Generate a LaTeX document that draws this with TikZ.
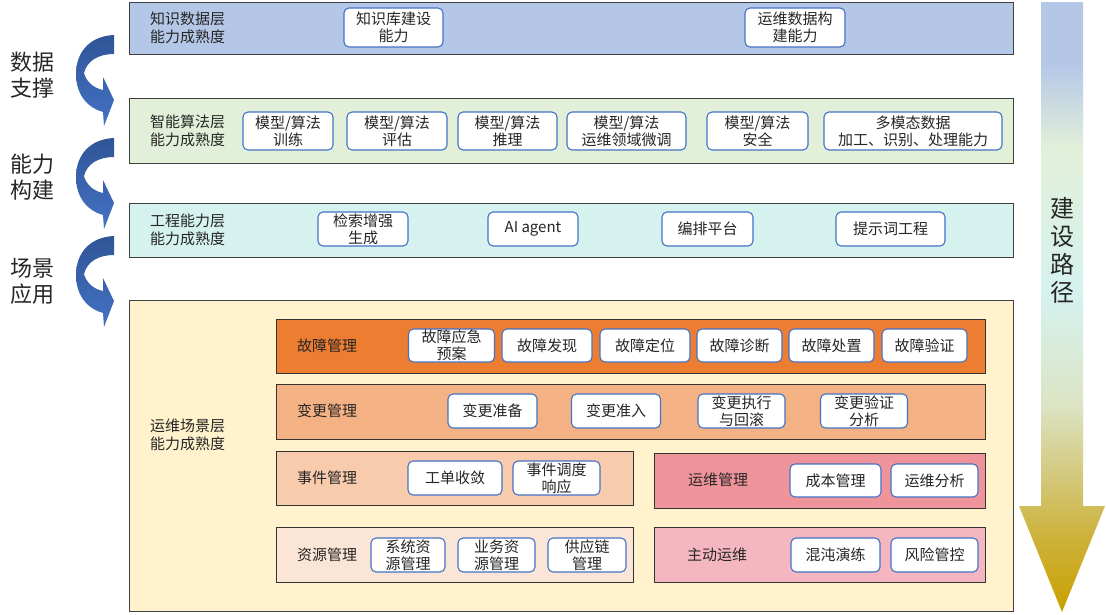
\documentclass[tikz,border=0pt]{standalone}
\usepackage{fontspec}
\setmainfont{Noto Sans CJK SC}

\definecolor{knowblue}{HTML}{B4C7E7}
\definecolor{algogreen}{HTML}{E2F0D9}
\definecolor{engcyan}{HTML}{D5F2EF}
\definecolor{scenebeige}{HTML}{FFF2CC}
\definecolor{faultorange}{HTML}{ED7D31}
\definecolor{changeorange}{HTML}{F4B183}
\definecolor{eventpeach}{HTML}{F8CBAD}
\definecolor{resourcepeach}{HTML}{FBE5D6}
\definecolor{opsred}{HTML}{F0949B}
\definecolor{proactivepink}{HTML}{F4B6C0}
\definecolor{boxblue}{HTML}{4472C4}
\definecolor{arrowdark}{HTML}{2F5597}
\definecolor{arrowlight}{HTML}{4472C4}
\definecolor{textgray}{HTML}{262626}
\definecolor{goldtip}{HTML}{C9A000}
\definecolor{goldmid}{HTML}{CDB23A}
\definecolor{goldlight}{HTML}{D3C77A}
\definecolor{paleolive}{HTML}{DCE4C4}

\pgfdeclareverticalshading{pathshade}{100bp}{color(0bp)=(goldtip); color(25bp)=(goldtip); color(31bp)=(goldmid); color(36bp)=(goldlight); color(42bp)=(paleolive); color(51bp)=(engcyan); color(63bp)=(algogreen); color(70bp)=(knowblue); color(100bp)=(knowblue)}

\tikzset{
  layer/.style={draw=black!75, line width=1.3pt, anchor=north west, inner sep=0pt},
  band/.style={draw=black!80, line width=1.1pt, anchor=north west, inner sep=0pt},
  item/.style={draw=boxblue, fill=white, line width=1.1pt, rounded corners=5pt, align=center, inner sep=0pt, text=textgray, font=\fontsize{15}{17}\selectfont},
  tag/.style={anchor=west, align=left, inner sep=0pt, text=textgray, font=\fontsize{15}{17.5}\selectfont},
  side/.style={align=center, inner sep=0pt, text=textgray, font=\fontsize{22}{26}\selectfont},
  curl/.style={top color=arrowdark, bottom color=arrowlight},
}

\begin{document}
\begin{tikzpicture}[x=1pt, y=-1pt]
	% Layers, bands, boxes and arrows:
	\useasboundingbox (0,0) rectangle (1106,614);
	\shade[shading=pathshade] (1041,2) -- (1083,2) -- (1083,506) -- (1105,506) -- (1062,612) -- (1019,506) -- (1041,506) -- cycle;
	\node[side, font=\fontsize{24}{28}\selectfont] (route) at (1062,250) {建\\设\\路\\径};

	\node[layer, fill=knowblue, minimum width=884pt, minimum height=52pt] (know) at (129,2) {};
	\node[layer, fill=algogreen, minimum width=884pt, minimum height=65pt] (algo) at (129,98) {};
	\node[layer, fill=engcyan, minimum width=884pt, minimum height=54pt] (eng) at (129,203) {};
	\node[layer, fill=scenebeige, minimum width=884pt, minimum height=311pt] (scene) at (129,300) {};

	\node[tag] (knowtag) at (150,28) {知识数据层\\能力成熟度};
	\node[tag] (algotag) at (150,131) {智能算法层\\能力成熟度};
	\node[tag] (engtag) at (150,230) {工程能力层\\能力成熟度};
	\node[tag] (scenetag) at (150,435) {运维场景层\\能力成熟度};

	\node[item, minimum width=99pt, minimum height=39pt] (kbase) at (393.5,27.5) {知识库建设\\能力};
	\node[item, minimum width=100pt, minimum height=39pt] (opsdata) at (795,27.5) {运维数据构\\建能力};

	\node[item, minimum width=90pt, minimum height=38pt] (train) at (288,131) {模型/算法\\训练};
	\node[item, minimum width=100pt, minimum height=38pt] (assess) at (397,131) {模型/算法\\评估};
	\node[item, minimum width=99pt, minimum height=38pt] (infer) at (507.5,131) {模型/算法\\推理};
	\node[item, minimum width=119pt, minimum height=38pt] (tune) at (626.5,131) {模型/算法\\运维领域微调};
	\node[item, minimum width=101pt, minimum height=38pt] (safe) at (757.5,131) {模型/算法\\安全};
	\node[item, minimum width=178pt, minimum height=38pt] (multi) at (913,131) {多模态数据\\加工、识别、处理能力};

	\node[item, minimum width=90pt, minimum height=34pt] (rag) at (363,229) {检索增强\\生成};
	\node[item, minimum width=90pt, minimum height=34pt] (agent) at (533,229) {AI agent};
	\node[item, minimum width=91pt, minimum height=34pt] (orch) at (707.5,229) {编排平台};
	\node[item, minimum width=109pt, minimum height=34pt] (prompt) at (890.5,229) {提示词工程};

	\node[band, fill=faultorange, minimum width=709pt, minimum height=54pt] (fault) at (276,319) {};
	\node[band, fill=changeorange, minimum width=709pt, minimum height=55pt] (change) at (276,384) {};
	\node[band, fill=eventpeach, minimum width=357pt, minimum height=54pt] (event) at (276,451) {};
	\node[band, fill=opsred, minimum width=331pt, minimum height=55pt] (opsmgmt) at (654,453) {};
	\node[band, fill=resourcepeach, minimum width=357pt, minimum height=55pt] (resource) at (276,527) {};
	\node[band, fill=proactivepink, minimum width=331pt, minimum height=55pt] (proactive) at (654,527) {};

	\node[tag] (faulttag) at (297,346) {故障管理};
	\node[tag] (changetag) at (297,411) {变更管理};
	\node[tag] (eventtag) at (297,478) {事件管理};
	\node[tag] (opstag) at (688,480) {运维管理};
	\node[tag] (resourcetag) at (297,555) {资源管理};
	\node[tag] (proactivetag) at (687,555) {主动运维};

	\node[item, minimum width=86pt, minimum height=33pt] (plan) at (451.5,345.5) {故障应急\\预案};
	\node[item, minimum width=90pt, minimum height=33pt] (detect) at (547,345.5) {故障发现};
	\node[item, minimum width=90pt, minimum height=33pt] (locate) at (645,345.5) {故障定位};
	\node[item, minimum width=85pt, minimum height=33pt] (diagnose) at (739.5,345.5) {故障诊断};
	\node[item, minimum width=85pt, minimum height=33pt] (dispose) at (831.5,345.5) {故障处置};
	\node[item, minimum width=85pt, minimum height=33pt] (verify) at (924.5,345.5) {故障验证};

	\node[item, minimum width=89pt, minimum height=34pt] (prepare) at (492.5,411) {变更准备};
	\node[item, minimum width=89pt, minimum height=34pt] (admit) at (616,411) {变更准入};
	\node[item, minimum width=87pt, minimum height=34pt] (execute) at (741.5,411) {变更执行\\与回滚};
	\node[item, minimum width=87pt, minimum height=34pt] (analyse) at (864,411) {变更验证\\分析};

	\node[item, minimum width=94pt, minimum height=34pt] (ticket) at (455,478) {工单收敛};
	\node[item, minimum width=87pt, minimum height=34pt] (dispatch) at (556.5,478) {事件调度\\响应};

	\node[item, minimum width=91pt, minimum height=33pt] (cost) at (835.5,480.5) {成本管理};
	\node[item, minimum width=87pt, minimum height=33pt] (opsana) at (934.5,480.5) {运维分析};

	\node[item, minimum width=74pt, minimum height=34pt] (sysres) at (408,555) {系统资\\源管理};
	\node[item, minimum width=77pt, minimum height=34pt] (bizres) at (496.5,555) {业务资\\源管理};
	\node[item, minimum width=78pt, minimum height=34pt] (supply) at (587,555) {供应链\\管理};

	\node[item, minimum width=89pt, minimum height=34pt] (chaos) at (835.5,555) {混沌演练};
	\node[item, minimum width=87pt, minimum height=34pt] (risk) at (934.5,555) {风险管控};

	\node[side] (datasup) at (32,75) {数据\\支撑};
	\node[side] (capbuild) at (32,177) {能力\\构建};
	\node[side] (sceneapp) at (32,281) {场景\\应用};

	\shade[curl] (114,35) .. controls (90,36) and (76,52) .. (76,74) .. controls (76,95) and (88,108) .. (103,112) -- (104,126) -- (114,100) -- (103,77) -- (103,90) .. controls (93,88) and (86,81) .. (84,73) .. controls (87,61) and (98,54) .. (114,54) -- cycle;
	\shade[curl, shift={(0,103)}] (114,35) .. controls (90,36) and (76,52) .. (76,74) .. controls (76,95) and (88,108) .. (103,112) -- (104,126) -- (114,100) -- (103,77) -- (103,90) .. controls (93,88) and (86,81) .. (84,73) .. controls (87,61) and (98,54) .. (114,54) -- cycle;
	\shade[curl, shift={(0,201)}] (114,35) .. controls (90,36) and (76,52) .. (76,74) .. controls (76,95) and (88,108) .. (103,112) -- (104,126) -- (114,100) -- (103,77) -- (103,90) .. controls (93,88) and (86,81) .. (84,73) .. controls (87,61) and (98,54) .. (114,54) -- cycle;
\end{tikzpicture}
\end{document}
